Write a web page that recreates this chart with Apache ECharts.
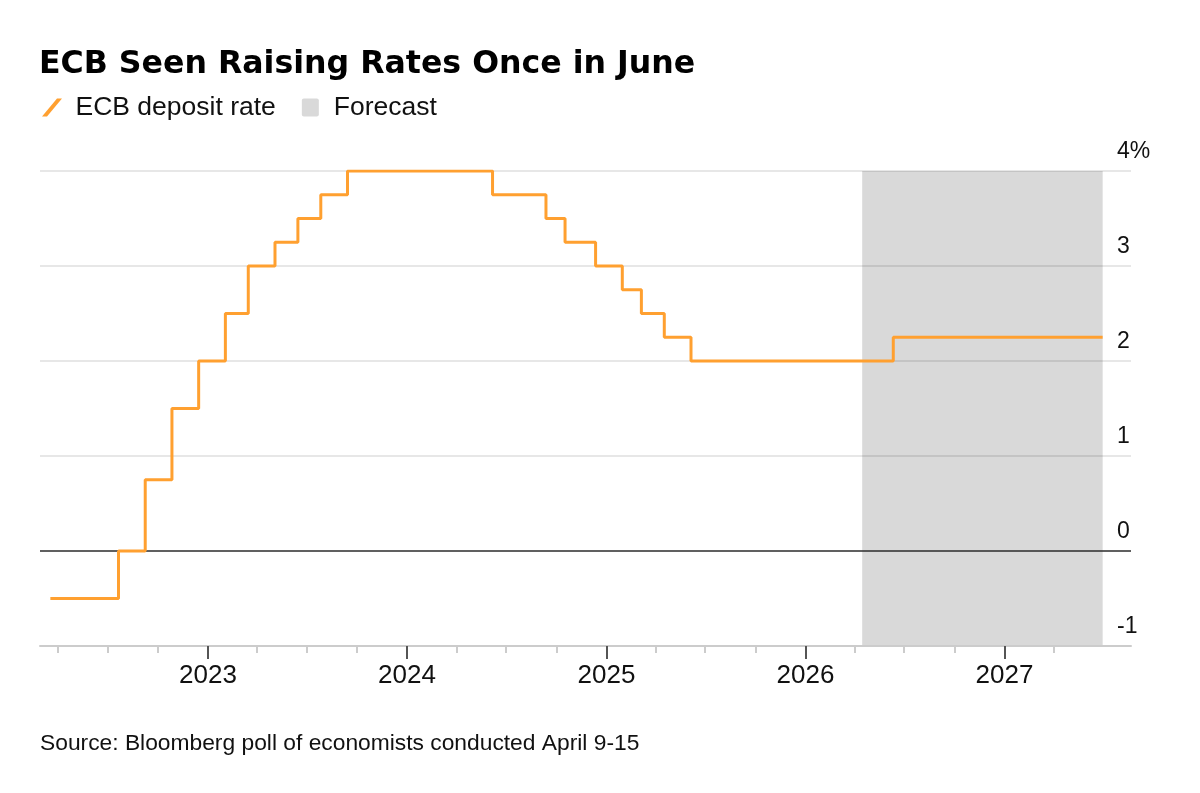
<!DOCTYPE html>
<html>
<head>
<meta charset="utf-8">
<script src="https://cdn.jsdelivr.net/npm/echarts@6/dist/echarts.min.js"></script>
<style>
html,body{margin:0;padding:0;background:#ffffff;}
#chart{width:1200px;height:793px;}
</style>
</head>
<body>
<div id="chart"></div>
<script>
// ---- Text ----
const titleText = 'ECB Seen Raising Rates Once in June';
const sourceText = 'Source: Bloomberg poll of economists conducted April 9-15';
const rateName = 'ECB deposit rate';
const forecastName = 'Forecast';

// ---- Data: ECB deposit rate (%), value in force from each date ----
const rateDates = [
  '2022-03-18', '2022-07-21', '2022-09-08', '2022-10-27', '2022-12-15',
  '2023-02-02', '2023-03-16', '2023-05-04', '2023-06-15', '2023-07-27',
  '2023-09-14', '2024-06-06', '2024-09-12', '2024-10-17', '2024-12-12',
  '2025-01-30', '2025-03-06', '2025-04-17', '2025-06-05', '2026-06-11',
  '2027-06-30'
];
const rateValues = [
  -0.5, 0, 0.75, 1.5, 2.0,
  2.5, 3.0, 3.25, 3.5, 3.75,
  4.0, 3.75, 3.5, 3.25, 3.0,
  2.75, 2.5, 2.25, 2.0, 2.25,
  2.25
];

// ---- Forecast shading ----
const forecastStart = '2026-04-15';
const forecastEnd = '2027-06-30';

// ---- Axes ----
const xAxisMin = '2022-02-27';
const xAxisMax = '2027-08-21';
const yearTicks = ['2023-01-01', '2024-01-01', '2025-01-01', '2026-01-01', '2027-01-01'];
const quarterTicks = [
  '2022-04-01', '2022-07-01', '2022-10-01',
  '2023-04-01', '2023-07-01', '2023-10-01',
  '2024-04-01', '2024-07-01', '2024-10-01',
  '2025-04-01', '2025-07-01', '2025-10-01',
  '2026-04-01', '2026-07-01', '2026-10-01',
  '2027-04-01'
];
const yMin = -1;
const yMax = 4;
const yStep = 1;

// ---- Build ----
const toTime = s => Date.UTC(+s.slice(0, 4), +s.slice(5, 7) - 1, +s.slice(8, 10));
const lineColor = '#ffa030';
const gray = '#d9d9d9';
const bodyFont = '"Liberation Sans", Arial, Helvetica, sans-serif';

const lineData = rateDates.map((d, i) => [toTime(d), rateValues[i]]);

const chart = echarts.init(document.getElementById('chart'), null, { renderer: 'canvas' });

const xBase = {
  type: 'value', min: toTime(xAxisMin), max: toTime(xAxisMax),
  position: 'bottom', z: 3, scale: true,
  splitLine: { show: false }
};

const option = {
  animation: false,
  backgroundColor: '#ffffff',
  textStyle: { fontFamily: bodyFont },
  title: [
    {
      text: titleText,
      left: 39, top: 49, padding: 0,
      textStyle: { fontFamily: '"DejaVu Sans", sans-serif', fontWeight: 'bold', fontSize: 31.6, color: '#000000' }
    },
    {
      text: sourceText,
      left: 40, top: 732.5, padding: 0,
      textStyle: { fontFamily: bodyFont, fontWeight: 'normal', fontSize: 22.8, color: '#111111' }
    }
  ],
  legend: {
    left: 42, top: 94, padding: 0,
    itemWidth: 20, itemHeight: 18, itemGap: 26,
    selectedMode: false,
    symbolKeepAspect: true,
    textStyle: { fontFamily: bodyFont, fontSize: 26.5, color: '#111111', padding: [0, 0, 6, 8.5] },
    data: [
      { name: rateName, icon: 'path://M0,18 L5,18 L20,0 L15,0 Z', itemStyle: { color: lineColor, borderWidth: 0 } },
      { name: forecastName, icon: 'path://M2,0 H15 Q17,0 17,2 V16 Q17,18 15,18 H2 Q0,18 0,16 V2 Q0,0 2,0 Z', itemStyle: { color: gray, borderWidth: 0 } }
    ]
  },
  grid: { left: 40, right: 69, top: 171, bottom: 147, containLabel: false, outerBoundsMode: 'none' },
  xAxis: [
    Object.assign({}, xBase, {
      axisLine: { show: true, onZero: false, lineStyle: { color: '#cccccc', width: 2 } },
      axisTick: { show: true, customValues: quarterTicks.map(toTime), length: 7, lineStyle: { color: '#cccccc', width: 2 } },
      axisLabel: { show: false }
    }),
    Object.assign({}, xBase, {
      axisLine: { show: false, onZero: false },
      axisTick: { show: true, customValues: yearTicks.map(toTime), length: 13, lineStyle: { color: '#555555', width: 2 } },
      axisLabel: {
        show: true, customValues: yearTicks.map(toTime),
        formatter: v => String(new Date(v).getUTCFullYear()),
        fontFamily: bodyFont, fontSize: 26, color: '#111111', margin: 17
      }
    })
  ],
  yAxis: {
    type: 'value', position: 'right', min: yMin, max: yMax, interval: yStep, z: 3,
    axisLine: { show: false },
    axisTick: { show: false },
    axisLabel: {
      show: true, margin: -14, align: 'left', verticalAlign: 'bottom', padding: [0, 0, 7.5, 0],
      fontFamily: bodyFont, fontSize: 23, color: '#111111',
      formatter: v => (v === yMax ? v + '%' : String(v))
    },
    splitLine: { show: true, lineStyle: { color: 'rgba(0,0,0,0.13)', width: 1.5 } }
  },
  series: [
    {
      name: forecastName, type: 'line', data: [], z: 1, color: gray,
      xAxisIndex: 0, yAxisIndex: 0,
      markArea: {
        silent: true, z: 1,
        itemStyle: { color: gray, opacity: 1 },
        label: { show: false },
        data: [[{ xAxis: toTime(forecastStart) }, { xAxis: toTime(forecastEnd) }]]
      }
    },
    {
      name: 'zero', type: 'line', data: [], z: 4,
      xAxisIndex: 0, yAxisIndex: 0,
      markLine: {
        silent: true, z: 5, symbol: ['none', 'none'],
        label: { show: false },
        lineStyle: { color: '#333333', width: 1.5, type: 'solid' },
        emphasis: { disabled: true },
        data: [{ yAxis: 0 }]
      }
    },
    {
      name: rateName, type: 'line', step: 'end', data: lineData, z: 10,
      xAxisIndex: 0, yAxisIndex: 0,
      color: lineColor, symbol: 'none', showSymbol: false,
      lineStyle: { color: lineColor, width: 3 },
      emphasis: { disabled: true }
    }
  ]
};

chart.setOption(option);
</script>
</body>
</html>
